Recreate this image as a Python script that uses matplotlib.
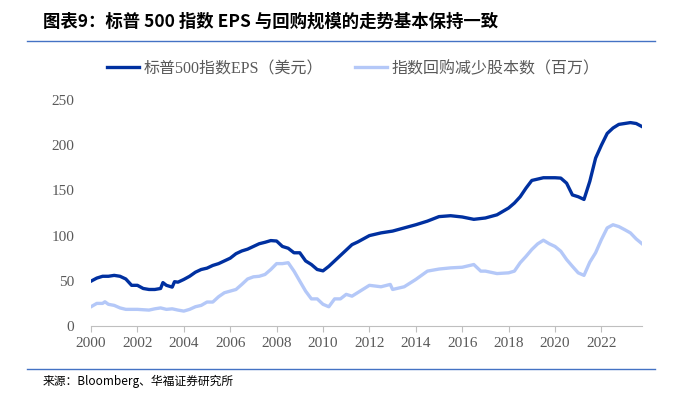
import matplotlib
matplotlib.use('Agg')
import numpy as np
import matplotlib.pyplot as plt

# quarterly values
eps_years = [2000, 2000.25, 2000.5, 2000.75, 2001, 2001.25, 2001.5, 2001.75, 2002, 2002.25,
             2002.5, 2002.75, 2003, 2003.1, 2003.25, 2003.5, 2003.6, 2003.75, 2004, 2004.25,
             2004.5, 2004.75, 2005, 2005.25, 2005.5, 2005.75, 2006, 2006.25, 2006.5, 2006.75,
             2007, 2007.25, 2007.5, 2007.75, 2008, 2008.25, 2008.5, 2008.75, 2009, 2009.25,
             2009.5, 2009.75, 2010, 2010.25, 2010.5, 2010.75, 2011, 2011.25, 2011.5, 2012,
             2012.5, 2013, 2013.5, 2014, 2014.5, 2015, 2015.5, 2016, 2016.5, 2017,
             2017.5, 2018, 2018.25, 2018.5, 2018.75, 2019, 2019.5, 2020, 2020.25, 2020.5,
             2020.75, 2021, 2021.25, 2021.5, 2021.75, 2022, 2022.25, 2022.5, 2022.75, 2023,
             2023.25, 2023.5, 2023.75]
eps = [49.6, 53, 55, 55, 56, 55, 52, 45, 45, 41.5,
       40.4, 40.4, 41.5, 48, 45, 43, 49, 48.5, 51.5, 55,
       59.5, 62.5, 64, 67, 69, 72, 75, 80, 83, 85,
       88, 91, 92.6, 94.5, 94, 88, 86, 81, 81, 72,
       68, 62.5, 61, 66, 72, 78, 84, 90, 93, 100,
       103, 105, 108.5, 112, 116, 121, 122, 120.6, 118, 119.5,
       123, 130.5, 136, 143, 152.5, 161, 164, 164, 163.6, 158,
       145, 143, 140, 160, 185.7, 200, 213, 219, 223, 224,
       225, 224, 220.6]

bb_years = [2000, 2000.25, 2000.5, 2000.6, 2000.75, 2001, 2001.25, 2001.5, 2001.75, 2002,
            2002.25, 2002.5, 2002.75, 2003, 2003.25, 2003.5, 2003.75, 2004, 2004.25, 2004.5,
            2004.75, 2005, 2005.25, 2005.5, 2005.75, 2006, 2006.25, 2006.5, 2006.75, 2007,
            2007.25, 2007.5, 2007.75, 2008, 2008.25, 2008.5, 2008.75, 2009, 2009.25, 2009.5,
            2009.75, 2010, 2010.25, 2010.5, 2010.75, 2011, 2011.25, 2011.5, 2012, 2012.5,
            2012.9, 2013, 2013.5, 2014, 2014.5, 2015, 2015.5, 2016, 2016.5, 2016.8,
            2017, 2017.5, 2018, 2018.25, 2018.5, 2018.75, 2019, 2019.25, 2019.5, 2019.75,
            2020, 2020.25, 2020.5, 2020.75, 2021, 2021.25, 2021.5, 2021.75, 2022, 2022.25,
            2022.5, 2022.75, 2023, 2023.25, 2023.5, 2023.75]
buyback = [21.3, 25, 25, 26.8, 24, 22.8, 20, 18.4, 18.4, 18.4,
           18, 17.6, 19, 20, 18.4, 19, 17.6, 16.5, 18.4, 21.3,
           22.8, 26.5, 26.5, 32.4, 36.8, 38.6, 40.4, 46, 52, 54.4,
           55, 57, 62.5, 69, 69, 70, 60.7, 49.6, 38.6, 30,
           30, 24, 21.3, 30, 30, 35, 33, 37, 45, 43.4,
           46, 40.4, 43.4, 51.5, 60.7, 63, 64.3, 65, 68, 60.7,
           60.7, 58, 58.8, 60.7, 70, 77, 84.6, 90.8, 94.9, 91,
           88, 82.7, 73.5, 66, 58.8, 56, 70.6, 81, 95.6, 108.5,
           112, 110, 106.6, 103, 96.3, 91]

xticks = list(range(2000, 2023, 2))
yticks = [0, 50, 100, 150, 200, 250]

mixed = ['Liberation Serif', 'Noto Sans CJK SC']
gray = '#595959'

fig = plt.figure(figsize=(6.75, 3.96), dpi=100)
ax = fig.add_axes([91 / 675, 1 - 326 / 396, (642 - 91) / 675, 226 / 396])

ax.plot(eps_years, eps, color='#0030A0', lw=2.4, label='标普500指数EPS（美元）')
ax.plot(bb_years, buyback, color='#B4C8F8', lw=2.4, label='指数回购减少股本数（百万）')

ax.set_xlim(2000, 2023.75)
ax.set_ylim(0, 250)
ax.set_xticks(xticks)
ax.set_yticks(yticks)
ax.set_xticklabels([str(t) for t in xticks], family=mixed, fontsize=11, color=gray)
ax.set_yticklabels([str(t) for t in yticks], family=mixed, fontsize=11, color=gray)
ax.tick_params(axis='y', length=0, pad=12)
ax.tick_params(axis='x', length=4, color='#BFBFBF', pad=4)
for s in ['top', 'right', 'left']:
    ax.spines[s].set_visible(False)
ax.spines['bottom'].set_color('#BFBFBF')

leg = fig.legend(loc='center', bbox_to_anchor=(353.5 / 675, 1 - 69 / 396), ncol=2, frameon=False,
                 prop={'family': mixed, 'size': 11.5}, handlelength=2.0,
                 columnspacing=2.0, handletextpad=0.3)
for t in leg.get_texts():
    t.set_color(gray)

fig.text(43 / 675, 1 - 22 / 396, '图表9：标普 500 指数 EPS 与回购规模的走势基本保持一致',
         family=['Noto Sans CJK SC'], fontweight='bold', fontsize=12.5, va='center')
fig.add_artist(plt.Line2D([27 / 675, 655 / 675], [1 - 41 / 396] * 2, color='#4472C4', lw=1))
fig.add_artist(plt.Line2D([27 / 675, 655 / 675], [1 - 369 / 396] * 2, color='#4472C4', lw=1))
fig.text(43 / 675, 1 - 381 / 396, '来源：Bloomberg、华福证券研究所',
         family=['Noto Sans CJK SC'], fontsize=8.5, va='center')

fig.savefig('out.png', dpi=100)
